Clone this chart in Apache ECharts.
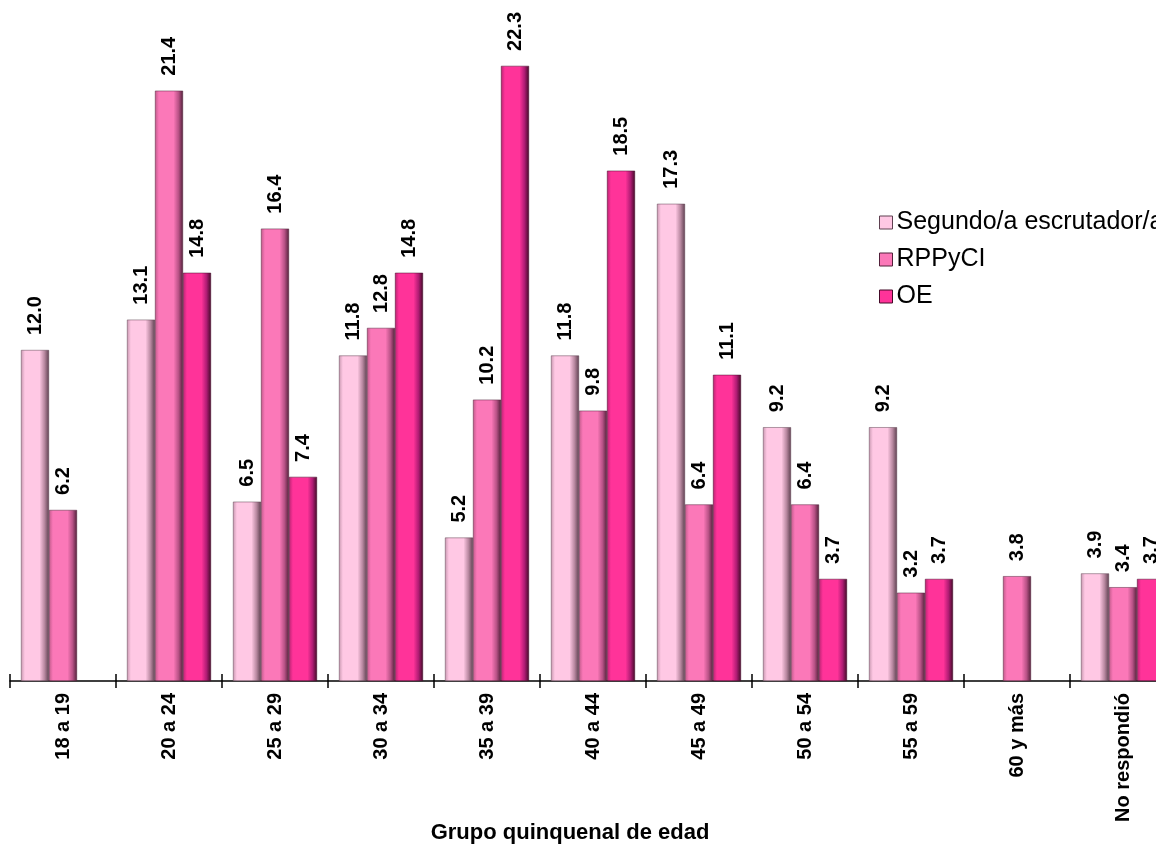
<!DOCTYPE html>
<html><head><meta charset="utf-8">
<script src="https://cdn.jsdelivr.net/npm/echarts@6/dist/echarts.min.js"></script>
<style>html,body{margin:0;padding:0;background:#fff;overflow:hidden;width:1156px;height:849px}#c{width:1200px;height:849px}</style>
</head><body><div id="c"></div>
<script>
const categories = ['18 a 19','20 a 24','25 a 29','30 a 34','35 a 39','40 a 44','45 a 49','50 a 54','55 a 59','60 y más','No respondió'];
const seriesNames = ['Segundo/a escrutador/a','RPPyCI','OE'];
const segundo = [12.0, 13.1, 6.5, 11.8, 5.2, 11.8, 17.3, 9.2, 9.2, null, 3.9];
const rppyci  = [6.2, 21.4, 16.4, 12.8, 10.2, 9.8, 6.4, 6.4, 3.2, 3.8, 3.4];
const oe      = [null, 14.8, 7.4, 14.8, 22.3, 18.5, 11.1, 3.7, 3.7, null, 3.7];
const axisTitle = 'Grupo quinquenal de edad';

const palettes = [
  {l:'#c898b0', b:'#ffc8e4', d1:'#b888a0', d2:'#5e4050'},
  {l:'#c05a8a', b:'#fb78b8', d1:'#b85286', d2:'#52203a'},
  {l:'#b82472', b:'#ff3399', d1:'#b01c74', d2:'#440a28'}
];
function grad(p){
  return new echarts.graphic.LinearGradient(0,0,1,0,[
    {offset:0,color:p.l},{offset:0.14,color:p.b},{offset:0.66,color:p.b},
    {offset:0.84,color:p.d1},{offset:1,color:p.d2}]);
}
const font = 'Liberation Sans, Arial, sans-serif';
const chart = echarts.init(document.getElementById('c'));
const datas = [segundo, rppyci, oe];
chart.setOption({
  animation:false,
  title:{text:axisTitle,left:570,top:822,padding:0,textAlign:'center',
    textStyle:{fontFamily:font,fontWeight:'bold',fontSize:22,color:'#000'}},
  legend:{orient:'vertical',left:879,top:210,itemWidth:13,itemHeight:13,itemGap:12,padding:0,
    textStyle:{fontFamily:font,fontSize:25,lineHeight:24,color:'#000',padding:[0,0,0,-1]},
    data:seriesNames.map((n,i)=>({name:n,icon:'rect',itemStyle:{color:palettes[i].b,borderColor:palettes[i].d2,borderWidth:1}}))},
  grid:{left:10,right:24,top:19,bottom:849-681},
  xAxis:[{type:'category',data:categories,boundaryGap:true,
    axisLine:{lineStyle:{color:'#000',width:1.5}},
    axisTick:{show:true,interval:0,length:7,lineStyle:{color:'#000',width:1.5}},
    axisLabel:{interval:0,rotate:90,margin:12,fontFamily:font,fontWeight:'bold',fontSize:20,color:'#000'}},
    {type:'category',data:categories,position:'bottom',boundaryGap:true,
    axisLine:{show:false},axisLabel:{show:false},
    axisTick:{show:true,inside:true,interval:0,length:7,lineStyle:{color:'#000',width:1.5}}}],
  yAxis:{type:'value',min:0,max:24,show:false,splitLine:{show:false}},
  series:datas.map((d,i)=>({
    name:seriesNames[i],type:'bar',data:d,barWidth:28,barGap:'0%',
    itemStyle:{color:grad(palettes[i]),borderColor:palettes[i].d2,borderWidth:0.5},
    label:{show:true,position:'top',rotate:90,align:'left',verticalAlign:'middle',distance:15,
      fontFamily:font,fontWeight:'bold',fontSize:20,color:'#000',
      formatter:p=>p.value==null?'':Number(p.value).toFixed(1)}
  }))
});
</script></body></html>
